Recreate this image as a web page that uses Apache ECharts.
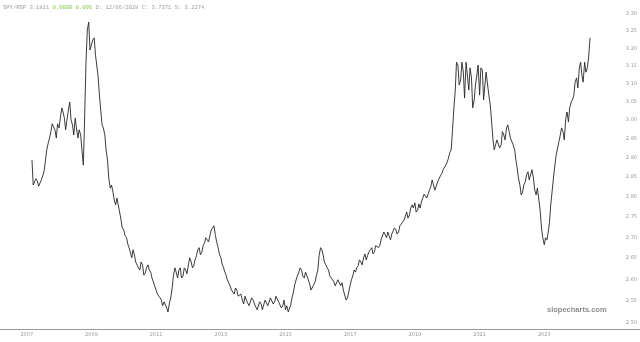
<!DOCTYPE html>
<html>
<head>
<meta charset="utf-8">
<script src="https://cdn.jsdelivr.net/npm/echarts@6/dist/echarts.min.js"></script>
<style>
html,body{margin:0;padding:0;background:#fff;}
#c{width:640px;height:342px;}
</style>
</head>
<body>
<div id="c"></div>
<script>
// SPY/RSP ratio.
// ratioYYYY: value on the 1st of each month; midYYYY: value mid-month (15th).
// 2007 starts in March.
const ratio2007 = [2.894, 2.835, 2.840, 2.825, 2.838, 2.894, 2.939, 2.969, 2.995, 2.952];
const mid2007   = [2.830, 2.846, 2.827, 2.843, 2.864, 2.921, 2.952, 2.990, 2.974, 2.990];
const ratio2008 = [2.979, 3.033, 3.005, 2.979, 3.049, 2.987, 3.005, 2.952, 2.960, 2.881, 3.166, 3.276];
const mid2008   = [3.005, 3.022, 2.974, 3.027, 3.000, 2.960, 2.979, 2.974, 2.921, 3.000, 3.253, 3.195];
const ratio2009 = [3.195, 3.230, 3.181, 3.068, 2.987, 2.960, 2.894, 2.822, 2.812, 2.780, 2.792, 2.742];
const mid2009   = [3.224, 3.181, 3.124, 3.027, 2.979, 2.921, 2.848, 2.830, 2.792, 2.797, 2.762, 2.723];
const ratio2010 = [2.718, 2.699, 2.675, 2.651, 2.658, 2.641, 2.622, 2.634, 2.615, 2.634, 2.617, 2.594];
const mid2010   = [2.704, 2.684, 2.665, 2.670, 2.641, 2.627, 2.641, 2.610, 2.627, 2.622, 2.603, 2.585];
const ratio2011 = [2.575, 2.564, 2.552, 2.548, 2.534, 2.546, 2.580, 2.627, 2.603, 2.627, 2.608, 2.622];
const mid2011   = [2.566, 2.557, 2.539, 2.552, 2.525, 2.557, 2.608, 2.617, 2.622, 2.603, 2.627, 2.613];
const ratio2012 = [2.634, 2.641, 2.632, 2.656, 2.675, 2.665, 2.687, 2.694, 2.706, 2.718, 2.704, 2.675];
const mid2012   = [2.651, 2.627, 2.646, 2.670, 2.658, 2.680, 2.699, 2.689, 2.718, 2.728, 2.689, 2.660];
const ratio2013 = [2.651, 2.627, 2.610, 2.599, 2.575, 2.566, 2.575, 2.557, 2.552, 2.561, 2.548, 2.541];
const mid2013   = [2.636, 2.617, 2.599, 2.585, 2.571, 2.580, 2.561, 2.566, 2.543, 2.552, 2.539, 2.557];
const ratio2014 = [2.552, 2.539, 2.532, 2.543, 2.534, 2.548, 2.541, 2.554, 2.548, 2.559, 2.546, 2.539];
const mid2014   = [2.543, 2.530, 2.548, 2.530, 2.552, 2.539, 2.557, 2.543, 2.561, 2.548, 2.534, 2.552];
const ratio2015 = [2.530, 2.525, 2.541, 2.571, 2.599, 2.617, 2.622, 2.603, 2.613, 2.589, 2.575, 2.594];
const mid2015   = [2.539, 2.525, 2.557, 2.587, 2.608, 2.627, 2.608, 2.617, 2.599, 2.575, 2.587, 2.608];
const ratio2016 = [2.622, 2.675, 2.658, 2.634, 2.622, 2.608, 2.594, 2.589, 2.599, 2.592, 2.571, 2.557];
const mid2016   = [2.656, 2.670, 2.641, 2.627, 2.608, 2.599, 2.585, 2.599, 2.585, 2.575, 2.552, 2.571];
const ratio2017 = [2.587, 2.610, 2.617, 2.632, 2.641, 2.651, 2.646, 2.665, 2.675, 2.665, 2.684, 2.680];
const mid2017   = [2.599, 2.622, 2.627, 2.646, 2.634, 2.660, 2.656, 2.670, 2.660, 2.680, 2.675, 2.694];
const ratio2018 = [2.694, 2.706, 2.713, 2.694, 2.704, 2.718, 2.713, 2.730, 2.742, 2.762, 2.755, 2.780];
const mid2018   = [2.713, 2.699, 2.704, 2.708, 2.723, 2.708, 2.728, 2.737, 2.752, 2.747, 2.772, 2.772];
const ratio2019 = [2.785, 2.767, 2.772, 2.792, 2.812, 2.802, 2.827, 2.838, 2.822, 2.843, 2.859, 2.874];
const mid2019   = [2.762, 2.782, 2.787, 2.807, 2.797, 2.817, 2.843, 2.817, 2.838, 2.853, 2.869, 2.881];
const ratio2020 = [2.889, 2.915, 2.974, 3.082, 3.152, 3.110, 3.132, 3.160, 3.082, 3.116, 3.055, 3.124];
const mid2020   = [2.899, 2.921, 3.027, 3.160, 3.096, 3.160, 3.060, 3.124, 3.144, 3.033, 3.096, 3.152];
const ratio2021 = [3.068, 3.138, 3.060, 3.132, 3.041, 2.947, 2.926, 2.952, 2.934, 2.960, 2.979, 2.969];
const mid2021   = [3.144, 3.055, 3.132, 3.068, 3.000, 2.921, 2.947, 2.926, 2.969, 2.947, 2.987, 2.952];
const ratio2022 = [2.947, 2.921, 2.874, 2.830, 2.812, 2.838, 2.864, 2.838, 2.848, 2.805, 2.792, 2.723];
const mid2022   = [2.934, 2.894, 2.848, 2.805, 2.830, 2.856, 2.843, 2.869, 2.817, 2.822, 2.767, 2.699];
const ratio2023 = [2.682, 2.694, 2.737, 2.817, 2.881, 2.926, 2.960, 2.969, 3.005, 2.995, 3.049, 3.068];
const mid2023   = [2.699, 2.713, 2.780, 2.848, 2.907, 2.942, 2.979, 2.947, 3.022, 3.033, 3.055, 3.104];
const ratio2024 = [3.116, 3.144, 3.124, 3.160, 3.144, 3.230];
const mid2024   = [3.088, 3.160, 3.104, 3.132, 3.172];

const yearSeries = [
  [2007, 2, ratio2007, mid2007], [2008, 0, ratio2008, mid2008], [2009, 0, ratio2009, mid2009],
  [2010, 0, ratio2010, mid2010], [2011, 0, ratio2011, mid2011], [2012, 0, ratio2012, mid2012],
  [2013, 0, ratio2013, mid2013], [2014, 0, ratio2014, mid2014], [2015, 0, ratio2015, mid2015],
  [2016, 0, ratio2016, mid2016], [2017, 0, ratio2017, mid2017], [2018, 0, ratio2018, mid2018],
  [2019, 0, ratio2019, mid2019], [2020, 0, ratio2020, mid2020], [2021, 0, ratio2021, mid2021],
  [2022, 0, ratio2022, mid2022], [2023, 0, ratio2023, mid2023], [2024, 0, ratio2024, mid2024]
];

const xTickYears = [2007, 2009, 2011, 2013, 2015, 2017, 2019, 2021, 2023];
const yTickLabels = [3.30, 3.25, 3.20, 3.15, 3.10, 3.05, 3.00, 2.95, 2.90, 2.85, 2.80, 2.75, 2.70, 2.65, 2.60, 2.55, 2.50];

const headerTicker = 'SPY/RSP 3.1811';
const headerChange = '0.0000 0.00%';
const headerRest = 'D: 12/06/2028 C: 3.7371 S: 3.2274';
const watermark = 'slopecharts.com';

const data = [];
yearSeries.forEach(([y, m0, first, mid]) => {
  first.forEach((v, i) => data.push([Date.UTC(y, m0 + i, 1), Math.log(v)]));
  mid.forEach((v, i) => data.push([Date.UTC(y, m0 + i, 15), Math.log(v)]));
});
data.sort((a, b) => a[0] - b[0]);

// log-price scale: plot ln(ratio) on a value axis
const PX_PER_LN = 1113;
const yTop = Math.log(3.30) + 4 / PX_PER_LN;
const yBottom = Math.log(3.30) - 315 / PX_PER_LN;

const chart = echarts.init(document.getElementById('c'), null, {renderer: 'canvas'});
chart.setOption({
  animation: false,
  backgroundColor: '#ffffff',
  grid: {left: 0, right: 0, top: 10, bottom: 13, containLabel: false},
  xAxis: {
    type: 'value',
    min: Date.UTC(2006, 2, 5),
    max: Date.UTC(2025, 11, 17),
    axisLine: {show: true, lineStyle: {color: '#9a9a9a', width: 1}},
    axisTick: {show: false},
    splitLine: {show: false},
    axisLabel: {
      customValues: xTickYears.map(y => Date.UTC(y, 0, 1)),
      formatter: v => String(new Date(v).getUTCFullYear()),
      fontSize: 5, color: '#999999', margin: 3, fontFamily: 'DejaVu Sans'
    }
  },
  yAxis: {
    type: 'value',
    position: 'right',
    min: yBottom,
    max: yTop,
    axisLine: {show: false},
    axisTick: {show: false},
    splitLine: {show: false},
    axisLabel: {
      inside: true,
      customValues: yTickLabels.map(v => Math.log(v)),
      formatter: v => Math.exp(v).toFixed(2),
      fontSize: 5, color: '#999999', margin: 3, fontFamily: 'DejaVu Sans'
    }
  },
  series: [{
    type: 'line',
    data: data,
    showSymbol: false,
    lineStyle: {color: '#262626', width: 0.9},
    silent: true
  }],
  graphic: [
    {
      type: 'text', left: 3, top: 2,
      style: {
        text: '{a|' + headerTicker + '} {b|' + headerChange + '} {a|' + headerRest + '}',
        rich: {
          a: {fontFamily: 'Liberation Mono', fontSize: 5.5, fill: '#a0a0a0'},
          b: {fontFamily: 'Liberation Mono', fontSize: 5.5, fill: '#8bc34a'}
        }
      }
    },
    {
      type: 'text', left: 547, top: 306,
      style: {
        text: watermark, fontFamily: 'Liberation Sans', fontWeight: 'bold',
        fontSize: 7.5, fill: '#8c8c8c'
      }
    }
  ]
});
</script>
</body>
</html>
